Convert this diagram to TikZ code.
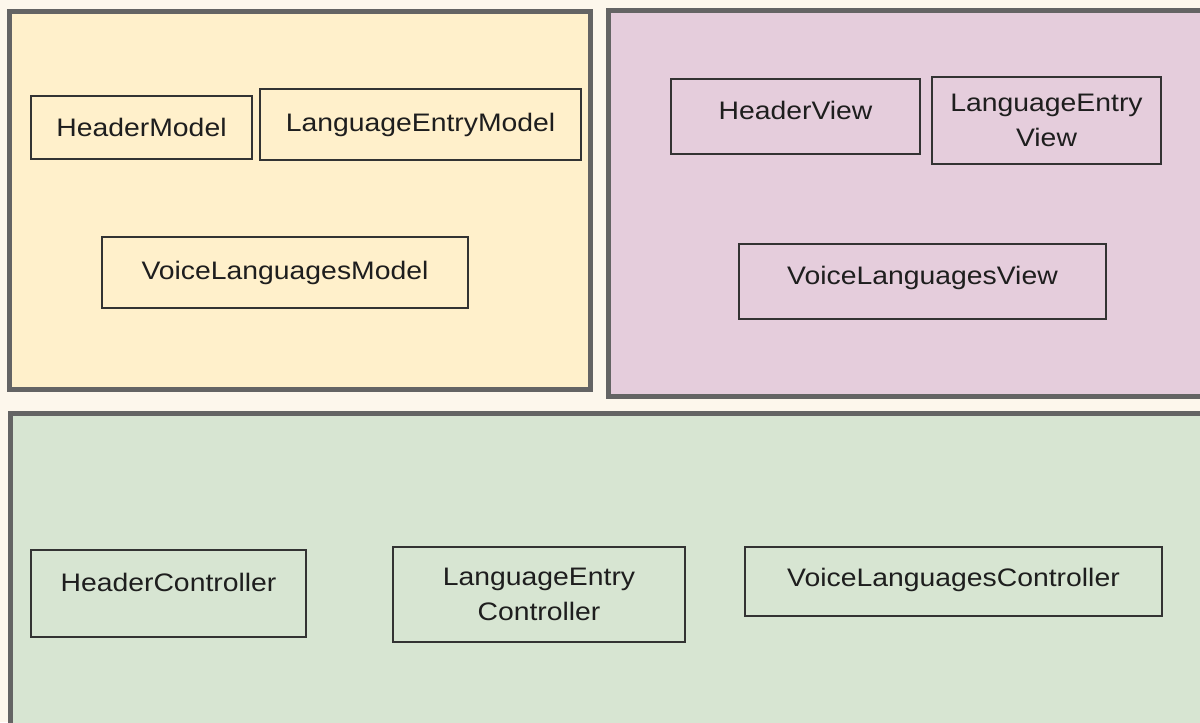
\documentclass[tikz,border=0pt]{standalone}
\usepackage{fontspec}
\setmainfont{Liberation Sans}[FakeStretch=1.12]
\usepackage{tikz}
\usetikzlibrary{positioning}
\definecolor{paper}{HTML}{FDF7EC}
\definecolor{modelbg}{HTML}{FFF0CB}
\definecolor{viewbg}{HTML}{E5CDDC}
\definecolor{ctrlbg}{HTML}{D7E5D2}
\definecolor{panelline}{HTML}{646464}
\definecolor{partline}{HTML}{333333}
\definecolor{ink}{HTML}{1E1E1E}

\begin{document}
\begin{tikzpicture}[x=0.025cm,y=-0.025cm,
panel/.style={draw=panelline,line width=3.6pt,inner sep=0pt},
part/.style={draw=partline,line width=1pt,inner sep=0pt,align=center,text=ink,font=\fontsize{18}{25}\selectfont}]
\useasboundingbox (0,0) rectangle (1200,722);
\clip (0,0) rectangle (1200,722);
\fill[paper] (0,0) rectangle (1200,722);
%panels
\node[panel,fill=modelbg,minimum width=14.5cm,minimum height=9.425cm] (models) at (300,200.5) {};
\node[panel,fill=viewbg,minimum width=15.15cm,minimum height=9.625cm] (views) at (912,203.5) {};
\node[panel,fill=ctrlbg,minimum width=30.1cm,minimum height=8.025cm] (ctrls) at (612.75,574.5) {};
%models
\node[part,minimum width=5.525cm,minimum height=1.575cm] (hdrmodel) at (141.5,127.5) {HeaderModel};
\node[part,minimum width=8.025cm,minimum height=1.775cm] (langmodel) at (420.5,124.5) {LanguageEntryModel};
\node[part,minimum width=9.15cm,minimum height=1.775cm] (voicemodel) at (285,272.5) {VoiceLanguagesModel};
%views
\node[part,minimum width=6.225cm,minimum height=1.875cm,text depth=8.4pt] (hdrview) at (795.5,116.5) {HeaderView};
\node[part,minimum width=5.725cm,minimum height=2.175cm] (langview) at (1046.5,120.5) {LanguageEntry\\View};
\node[part,minimum width=9.175cm,minimum height=1.875cm,text depth=9.4pt] (voiceview) at (922.5,281.5) {VoiceLanguagesView};
%controllers
\node[part,minimum width=6.875cm,minimum height=2.175cm,text depth=15.6pt] (hdrctrl) at (168.5,593.5) {HeaderController};
\node[part,minimum width=7.3cm,minimum height=2.375cm] (langctrl) at (539,594.5) {LanguageEntry\\Controller};
\node[part,minimum width=10.425cm,minimum height=1.725cm,text depth=6.6pt] (voicectrl) at (953.5,581.5) {VoiceLanguagesController};
\end{tikzpicture}
\end{document}
